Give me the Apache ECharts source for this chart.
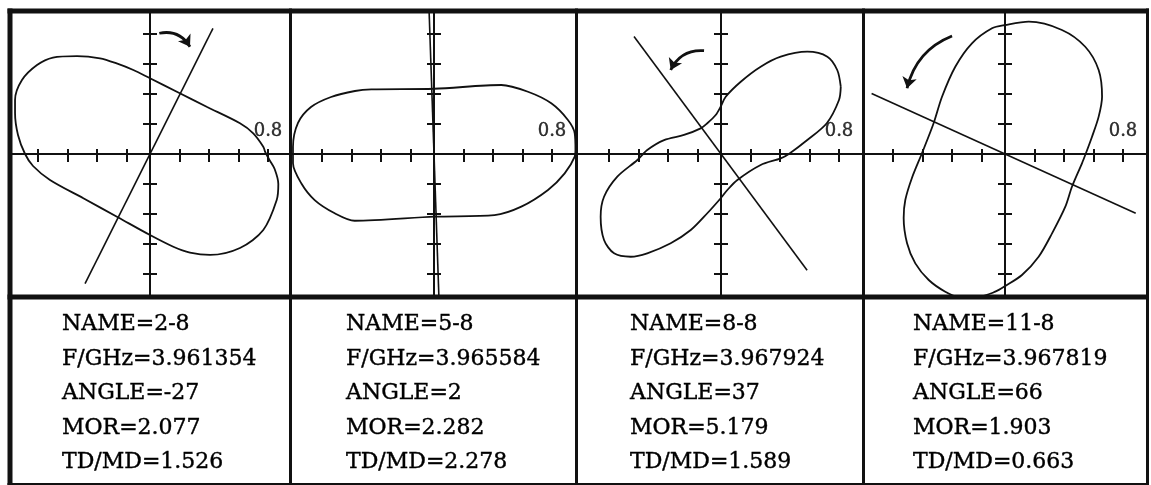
<!DOCTYPE html>
<html>
<head>
<meta charset="utf-8">
<script src="https://cdn.jsdelivr.net/npm/echarts@6/dist/echarts.min.js"></script>
<style>
  html, body { margin: 0; padding: 0; background: #ffffff; }
  #chart { width: 1151px; height: 485px; }
</style>
</head>
<body>
<div id="chart"></div>
<script>
// Measurement records, one entry per sample
const NAMES = ['2-8', '5-8', '8-8', '11-8'];
const FREQ_GHZ = ['3.961354', '3.965584', '3.967924', '3.967819'];
const ANGLES = [-27, 2, 37, 66];
const MOR = ['2.077', '2.282', '5.179', '1.903'];
const TD_MD = ['1.526', '2.278', '1.589', '0.663'];

// Axis tick positions and the single scale label
const X_TICKS = [-0.76, -0.56, -0.36, -0.16, 0.2, 0.4, 0.6, 0.8];
const Y_TICKS = [-0.8, -0.6, -0.4, -0.2, 0.2, 0.4, 0.6, 0.8];
const SCALE_LABEL = [0.8];

// Polar response curves (x, y), traced counter-clockwise
const PATTERN_2_8 = [
  [0.78, 0.015], [0.768, 0.049], [0.7, 0.138], [0.61, 0.205], [0.384, 0.315],
  [0.192, 0.41], [0, 0.505], [-0.113, 0.56], [-0.226, 0.604], [-0.339, 0.638],
  [-0.495, 0.653], [-0.658, 0.643], [-0.766, 0.593], [-0.868, 0.493], [-0.915, 0.36],
  [-0.915, 0.273], [-0.895, 0.127], [-0.847, 0], [-0.793, -0.08], [-0.678, -0.173],
  [-0.452, -0.295], [-0.215, -0.423], [0, -0.54], [0.158, -0.618], [0.271, -0.657],
  [0.407, -0.673], [0.61, -0.627], [0.768, -0.507], [0.859, -0.307], [0.87, -0.2],
  [0.845, -0.1], [0.81, -0.04], [0.78, 0.015]
];
const PATTERN_5_8 = [
  [0.959, 0.027], [0.954, 0.138], [0.908, 0.227], [0.795, 0.338], [0.637, 0.415],
  [0.456, 0.46], [0, 0.435], [-0.425, 0.431], [-0.536, 0.42], [-0.698, 0.38],
  [-0.834, 0.313], [-0.922, 0.207], [-0.956, 0.047], [-0.956, -0.062], [-0.9, -0.195],
  [-0.809, -0.307], [-0.673, -0.395], [-0.538, -0.445], [0.005, -0.418], [0.41, -0.407],
  [0.592, -0.351], [0.773, -0.24], [0.886, -0.129], [0.954, -0.018], [0.959, 0.027]
];
const PATTERN_8_8 = [
  [0.812, 0.449], [0.788, 0.56], [0.721, 0.649], [0.585, 0.682], [0.405, 0.649],
  [0.269, 0.582], [0.134, 0.482], [0.032, 0.382], [-0.002, 0.316], [-0.036, 0.26],
  [-0.093, 0.205], [-0.138, 0.171], [-0.251, 0.127], [-0.386, 0.093], [-0.5, 0.027],
  [-0.567, -0.04], [-0.703, -0.151], [-0.793, -0.285], [-0.816, -0.418], [-0.793, -0.573],
  [-0.725, -0.662], [-0.612, -0.685], [-0.5, -0.662], [-0.341, -0.595], [-0.205, -0.507],
  [-0.093, -0.395], [-0.002, -0.295], [0.043, -0.24], [0.111, -0.173], [0.269, -0.073],
  [0.405, -0.029], [0.46, 0], [0.585, 0.093], [0.717, 0.205], [0.8, 0.36], [0.812, 0.449]
];
const PATTERN_11_8 = [
  [0.544, -0.007], [0.59, 0.115], [0.635, 0.249], [0.658, 0.382], [0.635, 0.56],
  [0.544, 0.715], [0.386, 0.827], [0.161, 0.882], [0.002, 0.86], [-0.088, 0.838],
  [-0.224, 0.738], [-0.337, 0.582], [-0.427, 0.382], [-0.484, 0.205], [-0.563, 0.005],
  [-0.631, -0.16], [-0.676, -0.307], [-0.687, -0.427], [-0.664, -0.595], [-0.608, -0.729],
  [-0.517, -0.84], [-0.405, -0.918], [-0.314, -0.951], [-0.178, -0.951], [-0.066, -0.918],
  [0.002, -0.88], [0.115, -0.807], [0.228, -0.685], [0.319, -0.529], [0.409, -0.351],
  [0.454, -0.218], [0.522, -0.062], [0.544, -0.007]
];
const PATTERNS = [PATTERN_2_8, PATTERN_5_8, PATTERN_8_8, PATTERN_11_8];

// Reach of the minor-axis line on each side of the origin
const LINE_REACH = [[0.94, 0.97], [0.97, 0.97], [0.98, 0.97], [0.99, 0.97]];

// Rotation-sense arrows: start x, start y, end x, end y, bend
const ROTATION_ARROWS = [
  [0.063, 0.805, 0.271, 0.715, 0.35],
  null,
  [-0.115, 0.689, -0.341, 0.56, -0.34],
  [-0.359, 0.787, -0.664, 0.438, -0.26]
];

// ---- layout (pixels) ----
const INK = '#111111';
const SERIF = 'DejaVu Serif';
const PANELS = [
  { l: 10, r: 290.5, cx: 150 },
  { l: 290.5, r: 576.5, cx: 434 },
  { l: 576.5, r: 863.5, cx: 721 },
  { l: 863.5, r: 1147, cx: 1005 }
];
const TOP = 11, MID = 297, CY = 154, BOTTOM = 484;
const PX_X = 147.5, PX_Y = 150;
const TEXT_X = [62, 346, 630, 913];
const TEXT_TOP = 307.5, TEXT_LINE = 34.4;

const chart = echarts.init(document.getElementById('chart'), null, { renderer: 'canvas', width: 1151, height: 485 });

const grids = [], xAxes = [], yAxes = [], series = [], graphics = [];

PANELS.forEach((p, i) => {
  grids.push({
    left: p.l, top: TOP, width: p.r - p.l, height: MID - TOP,
    containLabel: false, outerBoundsMode: 'none', show: false
  });
  const xr = [(p.l - p.cx) / PX_X, (p.r - p.cx) / PX_X];
  const yr = [(CY - MID) / PX_Y, (CY - TOP) / PX_Y];
  const axisLine = { show: true, onZero: true, lineStyle: { color: INK, width: 2 } };
  const tickStyle = { color: INK, width: 2 };

  const baseX = { gridIndex: i, type: 'value', min: xr[0], max: xr[1], position: 'bottom',
    splitLine: { show: false }, axisLine: axisLine, axisLabel: { show: false } };
  xAxes.push(Object.assign({}, baseX, {
    axisTick: { show: true, inside: false, length: 8, customValues: X_TICKS, lineStyle: tickStyle }
  }));
  xAxes.push(Object.assign({}, baseX, {
    axisTick: { show: true, inside: true, length: 5, customValues: X_TICKS, lineStyle: tickStyle }
  }));

  const baseY = { gridIndex: i, type: 'value', min: yr[0], max: yr[1], position: 'left',
    splitLine: { show: false }, axisLine: axisLine, axisLabel: { show: false } };
  yAxes.push(Object.assign({}, baseY, {
    axisTick: { show: true, inside: false, length: 7, customValues: Y_TICKS, lineStyle: tickStyle }
  }));
  yAxes.push(Object.assign({}, baseY, {
    axisTick: { show: true, inside: true, length: 7, customValues: Y_TICKS, lineStyle: tickStyle }
  }));

  // response curve
  series.push({
    type: 'line', xAxisIndex: 2 * i, yAxisIndex: 2 * i,
    data: PATTERNS[i], smooth: 0.3, showSymbol: false, clip: true, silent: true,
    lineStyle: { color: INK, width: 1.8 }
  });

  // minor-axis line, perpendicular to the stated major-axis angle
  const th = (ANGLES[i] + 90) * Math.PI / 180;
  const reach = LINE_REACH[i];
  series.push({
    type: 'line', xAxisIndex: 2 * i, yAxisIndex: 2 * i, silent: true, clip: true,
    data: [
      [reach[0] * Math.cos(th), reach[0] * Math.sin(th)],
      [-reach[1] * Math.cos(th), -reach[1] * Math.sin(th)]
    ],
    showSymbol: false, lineStyle: { color: INK, width: 1.6 }
  });

  // scale label at the 0.8 tick
  series.push({
    type: 'scatter', xAxisIndex: 2 * i, yAxisIndex: 2 * i, silent: true,
    data: SCALE_LABEL.map(v => [v, 0]), symbolSize: 0,
    label: {
      show: true, position: 'top', distance: 14,
      formatter: (prm) => String(prm.value[0]),
      fontFamily: SERIF, fontSize: 18, color: '#000000',
      textBorderColor: '#000000', textBorderWidth: 0.4
    }
  });

  // curved arrow showing the sense of rotation
  const arrow = ROTATION_ARROWS[i];
  if (arrow) {
    series.push({
      type: 'lines', coordinateSystem: 'cartesian2d',
      xAxisIndex: 2 * i, yAxisIndex: 2 * i, silent: true,
      symbol: ['none', 'arrow'], symbolSize: 11,
      lineStyle: { color: INK, width: 2.8, opacity: 1, curveness: arrow[4] },
      data: [{ coords: [[arrow[0], arrow[1]], [arrow[2], arrow[3]]] }]
    });
  }

  // record text block
  graphics.push({
    type: 'text', x: TEXT_X[i], y: TEXT_TOP, z: 50,
    style: {
      text: [
        'NAME=' + NAMES[i],
        'F/GHz=' + FREQ_GHZ[i],
        'ANGLE=' + ANGLES[i],
        'MOR=' + MOR[i],
        'TD/MD=' + TD_MD[i]
      ].join('\n'),
      fontFamily: SERIF, fontSize: 22, fill: '#000000',
      stroke: '#000000', lineWidth: 0.4,
      lineHeight: TEXT_LINE, verticalAlign: 'top', align: 'left'
    }
  });
});

// table frame
function rule(x1, y1, x2, y2, w) {
  graphics.push({ type: 'line', z: 100, silent: true,
    shape: { x1: x1, y1: y1, x2: x2, y2: y2 },
    style: { stroke: INK, lineWidth: w } });
}
rule(7.5, TOP, 1149, TOP, 5);
rule(7.5, MID, 1149, MID, 5);
rule(7.5, BOTTOM, 1149, BOTTOM, 2);
rule(10, 8.5, 10, 485, 5);
rule(290.5, 8.5, 290.5, 485, 3);
rule(576.5, 8.5, 576.5, 485, 3);
rule(863.5, 8.5, 863.5, 485, 3);
rule(1147.5, 8.5, 1147.5, 485, 3);

chart.setOption({
  animation: false,
  backgroundColor: '#ffffff',
  grid: grids,
  xAxis: xAxes,
  yAxis: yAxes,
  series: series,
  graphic: { elements: graphics }
});
</script>
</body>
</html>
